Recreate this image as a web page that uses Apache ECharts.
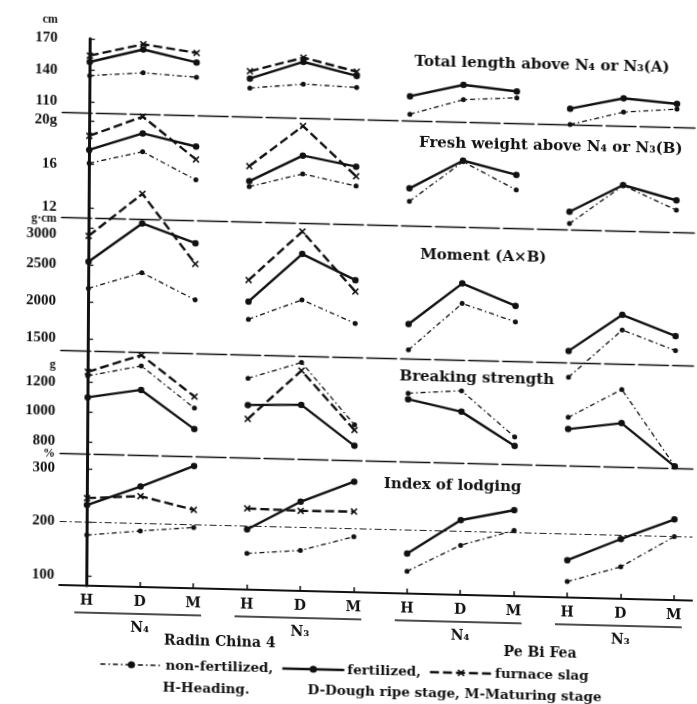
<!DOCTYPE html>
<html>
<head>
<meta charset="utf-8">
<script src="https://cdn.jsdelivr.net/npm/echarts@6/dist/echarts.min.js"></script>
<style>
  html, body { margin: 0; padding: 0; background: #fff; overflow: hidden; }
  /* the printed figure sits slightly sheared on the page */
  #chart { width: 697px; height: 704px; transform-origin: 61px 310px; transform: rotate(0.36deg) skewY(1.05deg); }
</style>
</head>
<body>
<div id="chart"></div>
<script>
// Growth stages and nitrogen levels along the x axis (4 groups of H, D, M)
const stageLabels = ['H', 'D', 'M'];
const nLevels = ['N\u2084', 'N\u2083', 'N\u2084', 'N\u2083'];
const varieties = ['Radin China 4', 'Pe Bi Fea'];

// Each array: Radin China 4 N4 (H,D,M), N3 (H,D,M), Pe Bi Fea N4 (H,D,M), N3 (H,D,M).
// Furnace slag was applied to Radin China 4 only.

// (A) total length above N4 or N3, cm
const lengthNonFert = [135, 139, 136, 127, 132, 130, 106, 121, 124, 100, 113, 117];
const lengthFert    = [148, 161, 150, 136, 153, 141, 123, 135, 130, 115, 126, 122];
const lengthSlag    = [154, 166, 159, 143, 157, 145];

// (B) fresh weight above N4 or N3, g
const weightNonFert = [16.1, 17.3, 14.8, 14.3, 15.6, 14.6, 13.3, 17.1, 14.6, 11.6, 15.25, 13.1];
const weightFert    = [17.35, 19.0, 17.9, 14.8, 17.3, 16.4, 14.5, 17.2, 16.0, 12.7, 15.3, 14.0];
const weightSlag    = [18.65, 20.55, 16.7, 16.2, 20.05, 15.5];

// moment (A x B), g·cm
const momentNonFert = [2180, 2410, 2060, 1815, 2095, 1795, 1455, 2100, 1870, 1140, 1795, 1535];
const momentFert    = [2540, 3075, 2825, 2055, 2715, 2380, 1805, 2370, 2085, 1495, 2000, 1730];
const momentSlag    = [2890, 3475, 2545, 2345, 3020, 2225];

// breaking strength, g
const strengthNonFert = [1243, 1318, 1045, 1253, 1367, 960, 1180, 1205, 905, 1045, 1240, 738];
const strengthFert    = [1100, 1158, 905, 1075, 1085, 820, 1140, 1065, 846, 967, 1015, 735];
const strengthSlag    = [1270, 1390, 1122, 982, 1313, 925];

// index of lodging, %
const lodgingNonFert = [176, 186, 195, 149, 157, 185, 123, 174, 204, 111, 141, 200];
const lodgingFert    = [232, 269, 310, 194, 248, 288, 156, 221, 242, 151, 193, 232];
const lodgingSlag    = [245, 251, 228, 233, 231, 232];
const lodgingReference = 200;

// y-axis tick labels per panel
const lengthTicks = [110, 140, 170];
const weightTicks = [12, 16, 20];
const momentTicks = [1500, 2000, 2500, 3000];
const strengthTicks = [800, 1000, 1200];
const lodgingTicks = [100, 200, 300];

const panelTitles = [
  'Total length above N\u2084 or N\u2083(A)',
  'Fresh weight above N\u2084 or N\u2083(B)',
  'Moment (A\u00d7B)',
  'Breaking strength',
  'Index of lodging'
];

const INK = '#111';
const SERIF = '"Liberation Serif", "DejaVu Serif", serif';
const WIDE = '"DejaVu Serif", "Liberation Serif", serif';
const X_SYMBOL = 'path://M0,1.6L1.6,0L5,3.4L8.4,0L10,1.6L6.6,5L10,8.4L8.4,10L5,6.6L1.6,10L0,8.4L3.4,5Z';

const treatments = {
  nonFert: { name: 'non-fertilized,', symbol: 'circle', symbolSize: 5, lineStyle: { width: 1.3, type: [5, 3, 1.5, 3] }, z: 3 },
  fert:    { name: 'fertilized,',     symbol: 'circle', symbolSize: 6.5, lineStyle: { width: 2.4, type: 'solid' }, z: 5 },
  slag:    { name: 'furnace slag',    symbol: X_SYMBOL, symbolSize: 7, lineStyle: { width: 2.4, type: [9, 4] }, z: 4 }
};

const panels = [
  { nonFert: lengthNonFert, fert: lengthFert, slag: lengthSlag, ticks: lengthTicks, min: 100, max: 170, top: 38, height: 74,
    unit: { text: 'cm', at: 170, lh: 20 } },
  { nonFert: weightNonFert, fert: weightFert, slag: weightSlag, ticks: weightTicks, min: 11.05, max: 20.8, top: 112, height: 105,
    suffix: { at: 20, text: 'g' } },
  { nonFert: momentNonFert, fert: momentFert, slag: momentSlag, ticks: momentTicks, min: 1338, max: 3135, top: 217, height: 133,
    stacked: { text: 'g\u00b7cm', at: 3000 } },
  { nonFert: strengthNonFert, fert: strengthFert, slag: strengthSlag, ticks: strengthTicks, min: 724, max: 1411, top: 350, height: 103,
    unit: { text: 'g', at: 1200, lh: 17 } },
  { nonFert: lodgingNonFert, fert: lodgingFert, slag: lodgingSlag, ticks: lodgingTicks, min: 81.3, max: 328, top: 453, height: 132,
    unit: { text: '%', at: 300, lh: 12 } }
];

const X_MIN = -0.51, X_MAX = 11.34;
const positions = Array.from({ length: 12 }, (_, i) => i);

function yLabelFormatter(p) {
  return function (v) {
    if (p.unit && v === p.unit.at) return '{u|' + p.unit.text + '}\n{n|' + v + '}\n{e| }';
    if (p.stacked && v === p.stacked.at) return '{s|' + p.stacked.text + '}\n{n|' + v + '}';
    if (p.suffix && v === p.suffix.at) return '{n|' + v + p.suffix.text + '}';
    return '{n|' + v + '}';
  };
}

const grids = [], xAxes = [], yAxes = [], series = [];
panels.forEach((p, i) => {
  const last = i === panels.length - 1;
  grids.push({ left: 61, right: 3, top: p.top, height: p.height, containLabel: false });
  xAxes.push({
    type: 'value', gridIndex: i, min: X_MIN, max: X_MAX,
    axisLine: { show: true, onZero: false, lineStyle: { color: INK, width: last ? 2 : 1.3, type: last ? 'solid' : [30, 4] } },
    axisTick: last ? { show: true, inside: true, length: 5, customValues: positions, lineStyle: { color: INK, width: 1.5 } } : { show: false },
    axisLabel: last ? {
      show: true, customValues: positions, margin: 8,
      formatter: v => stageLabels[Math.round(v) % 3],
      color: INK, fontFamily: WIDE, fontWeight: 'bold', fontSize: 14
    } : { show: false },
    splitLine: { show: false }
  });
  const lh = p.unit ? p.unit.lh : 14;
  yAxes.push({
    type: 'value', gridIndex: i, min: p.min, max: p.max,
    axisLine: { show: true, lineStyle: { color: INK, width: 3 } },
    axisTick: { show: true, inside: true, length: 5, customValues: p.ticks, lineStyle: { color: INK, width: 1.3 } },
    axisLabel: {
      show: true, customValues: p.ticks, margin: 5, formatter: yLabelFormatter(p),
      rich: {
        n: { fontFamily: SERIF, fontWeight: 'bold', fontSize: 15, lineHeight: 16, color: INK, align: 'right' },
        u: { fontFamily: SERIF, fontWeight: 'bold', fontSize: 12, lineHeight: lh, color: INK, align: 'right' },
        e: { fontSize: 10, lineHeight: lh },
        s: { fontFamily: SERIF, fontWeight: 'bold', fontSize: 12, lineHeight: 14, color: INK, align: 'right' }
      }
    },
    splitLine: { show: false }
  });

  Object.keys(treatments).forEach(key => {
    const t = treatments[key];
    const values = p[key];
    for (let g = 0; g < 4; g++) {
      const part = values.slice(g * 3, g * 3 + 3);
      if (part.length < 3) continue;
      const s = {
        type: 'line', name: t.name, xAxisIndex: i, yAxisIndex: i,
        data: part.map((v, k) => [g * 3 + k, v]),
        symbol: t.symbol, symbolSize: t.symbolSize, showSymbol: true,
        itemStyle: { color: INK },
        lineStyle: Object.assign({ color: INK }, t.lineStyle),
        clip: false, silent: true, animation: false, z: t.z
      };
      if (last && key === 'nonFert' && g === 0) {
        s.markLine = {
          silent: true, symbol: 'none', label: { show: false },
          lineStyle: { color: '#222', width: 1, type: [7, 3, 2, 3] },
          data: [{ yAxis: lodgingReference }]
        };
      }
      series.push(s);
    }
  });
});

const titleSpots = [
  { x: 413, y: 53.5 }, { x: 418, y: 134.5 }, { x: 420, y: 246 }, { x: 400, y: 368 }, { x: 385, y: 476 }
];

const chart = echarts.init(document.getElementById('chart'), null, { renderer: 'canvas' });
chart.setOption({
  backgroundColor: '#fff',
  animation: false,
  grid: grids,
  xAxis: xAxes,
  yAxis: yAxes,
  legend: {
    left: 97, top: 651, itemWidth: 62, itemHeight: 9, itemGap: 8, selectedMode: false,
    textStyle: { fontFamily: WIDE, fontWeight: 'bold', fontSize: 13.5, color: INK, padding: [0, 0, 0, -2] },
    data: [
      { name: treatments.nonFert.name, lineStyle: { width: 1.3 } },
      { name: treatments.fert.name, lineStyle: { width: 2.4 } },
      { name: treatments.slag.name, lineStyle: { width: 2.4 } }
    ]
  },
  series: series
});

// panel titles, group labels, variety names and the stage key
const xPix = v => chart.convertToPixel({ xAxisIndex: 4 }, v);
const graphics = [];
panelTitles.forEach((t, i) => {
  graphics.push({ type: 'text', x: titleSpots[i].x, y: titleSpots[i].y, silent: true,
    style: { text: t, fill: INK, font: 'bold 15px ' + WIDE, align: 'left', verticalAlign: 'middle' } });
});
nLevels.forEach((n, g) => {
  const h = xPix(g * 3), d = xPix(g * 3 + 1), m = xPix(g * 3 + 2);
  graphics.push({ type: 'line', silent: true, shape: { x1: h - 12, y1: 612, x2: m + 8, y2: 612 },
    style: { stroke: INK, lineWidth: 1.3 } });
  graphics.push({ type: 'text', x: d, y: 626, silent: true,
    style: { text: n, fill: INK, font: 'bold 14px ' + WIDE, align: 'center', verticalAlign: 'middle' } });
});
varieties.forEach((name, k) => {
  const cx = (xPix(k * 6 + 1) + xPix(k * 6 + 4)) / 2;
  graphics.push({ type: 'text', x: cx, y: k === 0 ? 638 : 641, silent: true,
    style: { text: name, fill: INK, font: 'bold 14px ' + WIDE, align: 'center', verticalAlign: 'middle' } });
});
graphics.push({ type: 'text', x: 165, y: 685, silent: true,
  style: { text: 'H-Heading.', fill: INK, font: 'bold 13.5px ' + WIDE, align: 'left', verticalAlign: 'middle' } });
graphics.push({ type: 'text', x: 310, y: 684, silent: true,
  style: { text: 'D-Dough ripe stage, M-Maturing stage', fill: INK, font: 'bold 13.5px ' + WIDE, align: 'left', verticalAlign: 'middle' } });

chart.setOption({ graphic: graphics });
</script>
</body>
</html>
